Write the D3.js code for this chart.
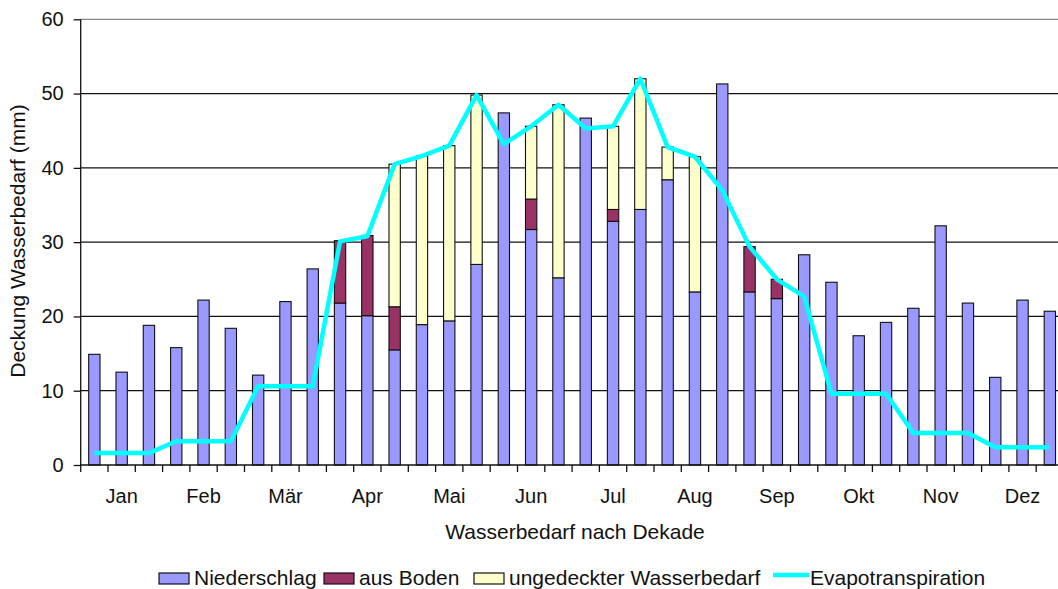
<!DOCTYPE html>
<meta charset="utf-8">
<script src="https://d3js.org/d3.v7.min.js"></script>
<style>
  body { margin: 0; background: #fff; }
  text { font-family: "Liberation Sans", Arial, sans-serif; fill: #111; }
</style>
<body>
<div id="chart"></div>
<script>
  // values per dekade (3 per month), mm
  var months = ["Jan", "Feb", "Mär", "Apr", "Mai", "Jun", "Jul", "Aug", "Sep", "Okt", "Nov", "Dez"];
  var niederschlag = [14.9, 12.5, 18.8, 15.8, 22.2, 18.4, 12.1, 22.0, 26.4, 21.8, 20.1, 15.5,
                      18.9, 19.4, 27.0, 47.4, 31.7, 25.2, 46.7, 32.8, 34.4, 38.4, 23.3, 51.3,
                      23.3, 22.4, 28.3, 24.6, 17.4, 19.2, 21.1, 32.2, 21.8, 11.8, 22.2, 20.7];
  var ausBoden = [0, 0, 0, 0, 0, 0, 0, 0, 0, 8.4, 10.8, 5.8,
                  0, 0, 0, 0, 4.1, 0, 0, 1.6, 0, 0, 0, 0,
                  6.1, 2.6, 0, 0, 0, 0, 0, 0, 0, 0, 0, 0];
  var ungedeckt = [0, 0, 0, 0, 0, 0, 0, 0, 0, 0, 0, 19.2,
                   22.7, 23.6, 22.8, 0, 9.8, 23.3, 0, 11.2, 17.6, 4.4, 18.2, 0,
                   0, 0, 0, 0, 0, 0, 0, 0, 0, 0, 0, 0];
  var evapo = [1.6, 1.6, 1.6, 3.2, 3.2, 3.2, 10.6, 10.6, 10.6, 30.1, 30.8, 40.5,
               41.6, 43.0, 49.8, 43.2, 45.6, 48.5, 45.3, 45.6, 52.0, 42.8, 41.5, 37.0,
               29.4, 25.0, 22.7, 9.6, 9.6, 9.6, 4.3, 4.3, 4.3, 2.4, 2.4, 2.4];
  var yTicks = [0, 10, 20, 30, 40, 50, 60];

  var series = [
    {name: "Niederschlag", values: niederschlag, color: "#9999FF"},
    {name: "aus Boden", values: ausBoden, color: "#993366"},
    {name: "ungedeckter Wasserbedarf", values: ungedeckt, color: "#FFFFCC"}
  ];

  var W = 1058, H = 589;
  var pLeft = 80.7, pRight = 1063.5, pTop = 19.3, pBottom = 465;

  var svg = d3.select("#chart").append("svg")
    .attr("width", W).attr("height", H);

  var idx = d3.range(36);
  var slot = d3.scaleBand().domain(idx).range([pLeft, pRight]);
  var x = d3.scaleBand().domain(idx).range([pLeft, pRight])
    .paddingInner(0.585).paddingOuter(0.2925);
  var y = d3.scaleLinear().domain([0, 60]).range([pBottom, pTop]);

  // gridlines
  svg.append("g")
    .selectAll("line")
    .data(yTicks.slice(1))
    .enter().append("line")
      .attr("x1", pLeft).attr("x2", pRight)
      .attr("y1", function(d) { return y(d); })
      .attr("y2", function(d) { return y(d); })
      .attr("stroke", function(d) { return d == 60 ? "#888" : "#111"; })
      .attr("stroke-width", 1.2);

  // stacked bars
  var segs = [];
  idx.forEach(function(i) {
    var base = 0;
    series.forEach(function(s) {
      var v = s.values[i];
      if (v > 0) segs.push({i: i, y0: base, y1: base + v, color: s.color});
      base += v;
    });
  });
  svg.append("g")
    .selectAll("rect")
    .data(segs)
    .enter().append("rect")
      .attr("x", function(d) { return x(d.i); })
      .attr("width", x.bandwidth())
      .attr("y", function(d) { return y(d.y1); })
      .attr("height", function(d) { return y(d.y0) - y(d.y1); })
      .attr("fill", function(d) { return d.color; })
      .attr("stroke", "#111")
      .attr("stroke-width", 1.1);

  // evapotranspiration line
  var line = d3.line()
    .x(function(d, i) { return slot(i) + slot.bandwidth() / 2; })
    .y(function(d) { return y(d); });
  svg.append("path")
    .datum(evapo)
    .attr("d", line)
    .attr("fill", "none")
    .attr("stroke", "#00FFFF")
    .attr("stroke-width", 4.5)
    .attr("stroke-linejoin", "round");

  // y axis
  var yAxis = svg.append("g")
    .attr("transform", "translate(" + pLeft + ",0)")
    .call(d3.axisLeft(y).tickValues(yTicks).tickSize(7).tickPadding(10));
  yAxis.selectAll("line, path").attr("stroke", "#111").attr("stroke-width", 1.3);
  yAxis.selectAll("text").style("font-size", "20px").attr("fill", "#111");
  yAxis.select(".domain").attr("d", "M0," + pTop + "V" + pBottom);

  // x axis: ticks on dekade borders, month names centred
  var xa = svg.append("g");
  xa.append("line")
    .attr("x1", pLeft).attr("x2", pRight)
    .attr("y1", pBottom).attr("y2", pBottom)
    .attr("stroke", "#111").attr("stroke-width", 1.3);
  xa.selectAll(".tk")
    .data(d3.range(37))
    .enter().append("line")
      .attr("x1", function(d) { return pLeft + d * slot.step(); })
      .attr("x2", function(d) { return pLeft + d * slot.step(); })
      .attr("y1", pBottom).attr("y2", pBottom + 7)
      .attr("stroke", "#111").attr("stroke-width", 1.3);
  xa.selectAll("text")
    .data(months)
    .enter().append("text")
      .attr("x", function(d, m) { return slot(m * 3 + 1) + slot.bandwidth() / 2; })
      .attr("y", 503)
      .attr("text-anchor", "middle")
      .style("font-size", "20px")
      .text(function(d) { return d; });

  // axis titles
  svg.append("text")
    .attr("x", 575).attr("y", 539)
    .attr("text-anchor", "middle")
    .style("font-size", "21px")
    .text("Wasserbedarf nach Dekade");
  svg.append("text")
    .attr("transform", "translate(25,241) rotate(-90)")
    .attr("text-anchor", "middle")
    .style("font-size", "21px")
    .text("Deckung Wasserbedarf (mm)");

  // legend
  var legend = [
    {name: "Niederschlag", color: "#9999FF", x: 159, type: "box"},
    {name: "aus Boden", color: "#993366", x: 324, type: "box"},
    {name: "ungedeckter Wasserbedarf", color: "#FFFFCC", x: 474, type: "box"},
    {name: "Evapotranspiration", color: "#00FFFF", x: 773, type: "line"}
  ];
  var lg = svg.append("g").selectAll("g").data(legend).enter().append("g");
  lg.filter(function(d) { return d.type == "box"; })
    .append("rect")
      .attr("x", function(d) { return d.x; })
      .attr("y", 573).attr("width", 30).attr("height", 11)
      .attr("fill", function(d) { return d.color; })
      .attr("stroke", "#111").attr("stroke-width", 1.2);
  lg.filter(function(d) { return d.type == "line"; })
    .append("line")
      .attr("x1", function(d) { return d.x; })
      .attr("x2", function(d) { return d.x + 36; })
      .attr("y1", 575).attr("y2", 575)
      .attr("stroke", function(d) { return d.color; })
      .attr("stroke-width", 4.5);
  lg.append("text")
    .attr("x", function(d) { return d.x + (d.type == "box" ? 35 : 37); })
    .attr("y", 585)
    .style("font-size", "21px")
    .text(function(d) { return d.name; });
</script>
</body>
